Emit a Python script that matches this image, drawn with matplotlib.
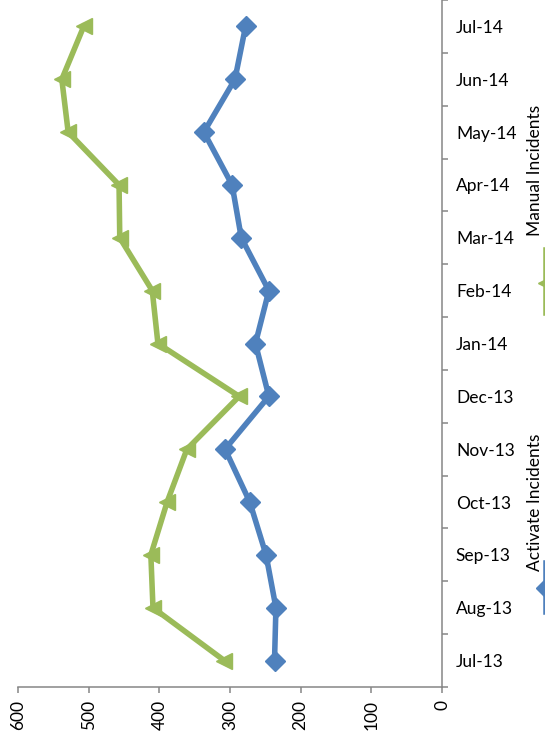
import numpy as np
import matplotlib.pyplot as plt
from matplotlib.lines import Line2D

plt.rcParams['font.family'] = ['Lato', 'DejaVu Sans']

# data
months = ['Jul-13', 'Aug-13', 'Sep-13', 'Oct-13', 'Nov-13', 'Dec-13', 'Jan-14',
          'Feb-14', 'Mar-14', 'Apr-14', 'May-14', 'Jun-14', 'Jul-14']
activate = [237, 235, 249, 272, 307, 245, 264, 245, 284, 297, 337, 293, 278]
manual = [308, 409, 412, 389, 361, 287, 402, 410, 456, 457, 529, 538, 507]
value_ticks = [0, 100, 200, 300, 400, 500, 600]

blue = '#4F81BD'
green = '#9BBB59'
grey = '#868686'
fs = 12.5

W, H = 545, 750
fig = plt.figure(figsize=(W / 100, H / 100), dpi=100)
ax = fig.add_axes([18 / W, 1 - 687 / H, (442 - 18) / W, 687 / H])

pos = np.arange(len(months))
ax.plot(activate, pos, color=blue, lw=4, marker='D', ms=10, solid_joinstyle='round')
ax.plot(manual, pos, color=green, lw=4, marker='<', ms=12, solid_joinstyle='round')

ax.set_xlim(600, 0)
ax.set_ylim(-0.5, len(months) - 0.5)

ax.set_xticks(value_ticks)
ax.set_xticklabels([str(v) for v in value_ticks], rotation=90, fontsize=fs)
ax.tick_params(axis='x', length=4.5, width=1.1, color=grey, pad=5)

ax.yaxis.tick_right()
ax.set_yticks(pos)
ax.set_yticklabels(months, fontsize=fs)
ax.set_yticks(np.arange(-0.5, len(months), 1), minor=True)
ax.tick_params(axis='y', which='major', length=0, pad=10)
ax.tick_params(axis='y', which='minor', length=4.5, width=1.1, color=grey, right=True, left=False)

for s in ['top', 'left']:
    ax.spines[s].set_visible(False)
for s in ['bottom', 'right']:
    ax.spines[s].set_color(grey)
    ax.spines[s].set_linewidth(1.1)

# legend, drawn rotated like the rest of the chart
def fx(px):
    return px / W

def fy(py):
    return 1 - py / H

fig.add_artist(Line2D([fx(546), fx(546)], [fy(250), fy(313)], color=green, lw=4,
                      transform=fig.transFigure))
fig.add_artist(Line2D([fx(546)], [fy(283)], color=green, marker='<', ms=12,
                      transform=fig.transFigure))
fig.text(fx(527), fy(236), 'Manual Incidents', rotation=90, fontsize=fs,
         ha='left', va='bottom')

fig.add_artist(Line2D([fx(546), fx(546)], [fy(563), fy(612)], color=blue, lw=4,
                      transform=fig.transFigure))
fig.add_artist(Line2D([fx(546)], [fy(588)], color=blue, marker='D', ms=10,
                      transform=fig.transFigure))
fig.text(fx(527), fy(571), 'Activate Incidents', rotation=90, fontsize=fs,
         ha='left', va='bottom')

fig.savefig('out.png', dpi=100)
